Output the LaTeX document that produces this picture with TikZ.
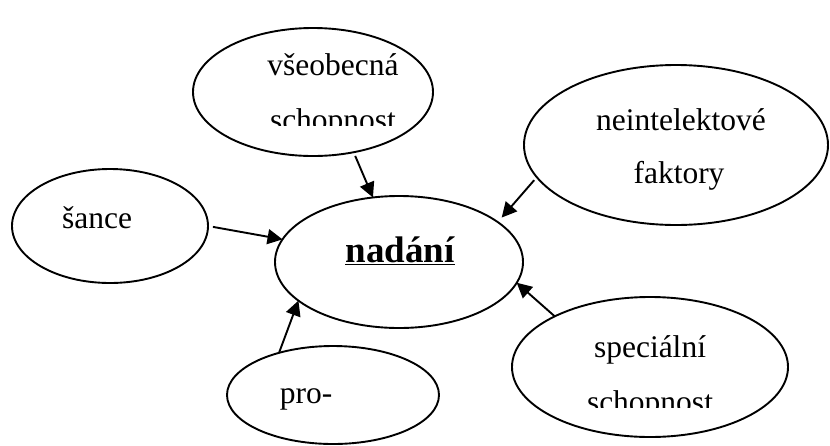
\documentclass[tikz,border=0pt]{standalone}
\usepackage{fontspec}
\setmainfont{Liberation Serif}
\usetikzlibrary{shapes.geometric,arrows.meta}
\tikzset{
  bubble/.style={ellipse, draw, line width=1.9pt, inner sep=0pt, outer sep=0pt},
  word/.style={anchor=base, inner sep=0pt, font=\fontsize{31.5}{36}\selectfont},
  link/.style={line width=1.9pt, -{Triangle[length=15pt,width=15pt]}},
}
\begin{document}
\begin{tikzpicture}[x=1pt,y=-1pt]
\useasboundingbox (0,0) rectangle (830,445);

% ellipses
\node[bubble, minimum width=248pt, minimum height=132pt] (nadani) at (399,262) {};
\node[bubble, minimum width=240pt, minimum height=128pt] (vseob) at (313,92) {};
\node[bubble, minimum width=196pt, minimum height=114pt] (sance) at (110,226) {};
\node[bubble, minimum width=304pt, minimum height=160pt] (neint) at (676,145) {};
\node[bubble, minimum width=212pt, minimum height=98pt] (pro) at (333,395) {};
\node[bubble, minimum width=276pt, minimum height=140pt] (spec) at (650,367) {};

% labels
\node[anchor=base, inner sep=0pt, font=\fontsize{37}{40}\selectfont\bfseries] (tnad) at (400,262) {\underline{nadání}};
\node[word] (tv1) at (333,75) {všeobecná};
\begin{scope}
  \clip (200,95) rectangle (460,125);
  \node[word] (tv2) at (333,130) {schopnost};
\end{scope}
\node[word] (ts) at (97,228) {šance};
\node[word] (tn1) at (681,130) {neintelektové};
\node[word] (tn2) at (679,183) {faktory};
\node[word] (tp) at (306,403) {pro-};
\node[word] (tsp1) at (650,357) {speciální};
\begin{scope}
  \clip (560,370) rectangle (740,407);
  \node[word] (tsp2) at (650,412) {schopnost};
\end{scope}

% connectors
\draw[link, shorten <=5pt] (sance.0) -- (nadani.169);
\draw[link, shorten <=4pt] (vseob.-56) -- (nadani.112);
\draw[link, shorten <=4pt, shorten >=6pt] (neint.193) -- (nadani.22);
\draw[link] (pro.142) -- (nadani.201);
\draw[link] (spec.152) -- (nadani.-10);
\end{tikzpicture}
\end{document}
